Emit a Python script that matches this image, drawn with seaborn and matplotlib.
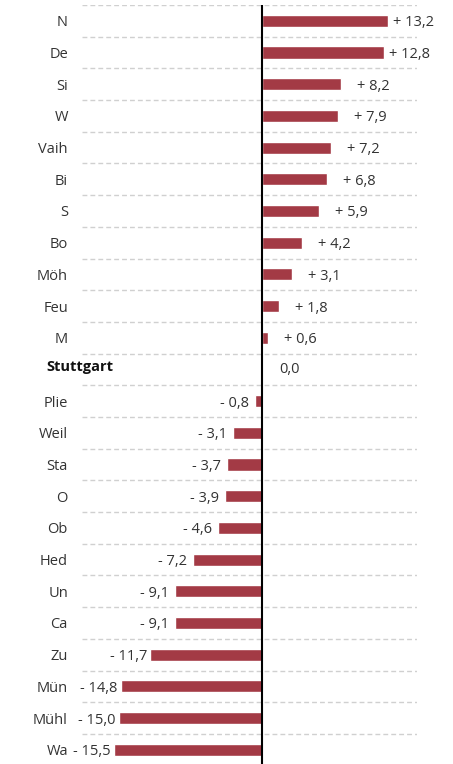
import matplotlib
matplotlib.use("Agg")
import matplotlib.pyplot as plt
import matplotlib.transforms as mtransforms
import seaborn as sns
import pandas as pd

names = ["N", "De", "Si", "W", "Vaih", "Bi", "S", "Bo", "Möh", "Feu", "M", "Stuttgart",
         "Plie", "Weil", "Sta", "O", "Ob", "Hed", "Un", "Ca", "Zu", "Mün", "Mühl", "Wa"]
values = [13.2, 12.8, 8.2, 7.9, 7.2, 6.8, 5.9, 4.2, 3.1, 1.8, 0.6, 0.0,
          -0.8, -3.1, -3.7, -3.9, -4.6, -7.2, -9.1, -9.1, -11.7, -14.8, -15.0, -15.5]

sns.set_theme(style="white")
plt.rcParams['font.family'] = ['Open Sans', 'DejaVu Sans']

df = pd.DataFrame({"name": names, "value": values})

fig = plt.figure(figsize=(4.53, 7.64), dpi=100)
ax = fig.add_axes([0.181, 0.0, 0.7395, 0.9935])
bar_color = "#a33a45"
sns.barplot(data=df, x="value", y="name", color=bar_color, width=0.38,
            saturation=1, ax=ax, order=names)

ax.set_xlim(-18.85, 16.2)
ax.set_ylim(len(names) - 0.55, -0.5)

for i in range(len(names)):
    ax.axhline(i - 0.5, color="#d0d0d0", lw=1.0, ls=(0, (3.5, 2.2)), zorder=0)
ax.axvline(0, color="black", lw=1.5, zorder=3)

for sp in ax.spines.values():
    sp.set_visible(False)
ax.set_xticks([])
ax.set_yticks([])
ax.set_xlabel("")
ax.set_ylabel("")

FS = 10.5
TC = "#333333"
BASE = -5.5  # pixel offset to center cap height on bar

trans = mtransforms.blended_transform_factory(ax.transAxes, ax.transData)
for i, n in enumerate(names):
    if n == "Stuttgart":
        ax.annotate(n, (0, i), xycoords=trans, xytext=(-36, BASE + 3.5),
                    textcoords="offset pixels", ha="left", va="baseline",
                    fontsize=FS, fontweight="bold", color="#111111")
    else:
        ax.annotate(n, (0, i), xycoords=trans, xytext=(-14, BASE),
                    textcoords="offset pixels", ha="right", va="baseline",
                    fontsize=FS, color=TC)

def fmt(v):
    s = f"{abs(v):.1f}".replace(".", ",")
    if v > 0:
        return "+ " + s
    if v < 0:
        return "- " + s
    return s

for i, v in enumerate(values):
    txt = fmt(v)
    if v > 0:
        off = 5 if abs(v) >= 10 else 16
        ax.annotate(txt, (v, i), xytext=(off, BASE), textcoords="offset pixels",
                    ha="left", va="baseline", fontsize=FS, color=TC)
    elif v < 0:
        off = 3 if abs(v) >= 10 else 6
        ax.annotate(txt, (v, i), xytext=(-off, BASE), textcoords="offset pixels",
                    ha="right", va="baseline", fontsize=FS, color=TC)
    else:
        ax.annotate(txt, (v, i), xytext=(17, BASE + 1.5), textcoords="offset pixels",
                    ha="left", va="baseline", fontsize=FS, color=TC)

fig.savefig("out.png", dpi=100)
